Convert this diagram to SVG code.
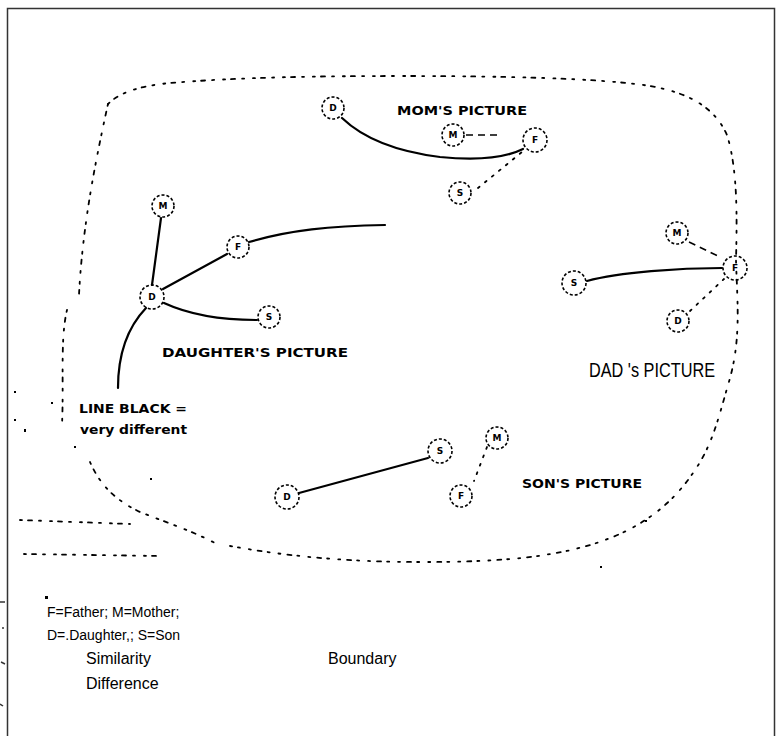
<svg xmlns="http://www.w3.org/2000/svg" width="776" height="736" viewBox="0 0 776 736">
<style>
.node{fill:none;stroke:#000;stroke-width:1.6;stroke-dasharray:3 2}
.nl{font-family:"DejaVu Sans","Liberation Sans",sans-serif;font-size:9px;font-weight:bold;text-anchor:middle;fill:#000}
.sol{fill:none;stroke:#000;stroke-width:2.2;stroke-linecap:round}
.dsh{fill:none;stroke:#000;stroke-width:1.6;stroke-dasharray:7 5}
.dot{fill:none;stroke:#000;stroke-width:1.8;stroke-dasharray:2 7;stroke-linecap:round}
.bnd{fill:none;stroke:#000;stroke-width:1.8;stroke-dasharray:2 6 4 7 2 9;stroke-linecap:round}
.pix{font-family:"DejaVu Sans Condensed","DejaVu Sans",sans-serif;font-weight:bold;font-size:12px;fill:#000}
.leg{font-family:"Liberation Sans",Arial,sans-serif;font-size:14px;fill:#000}
.leg2{font-family:"Liberation Sans",Arial,sans-serif;font-size:16px;fill:#000}
</style>
<rect x="7.5" y="8.5" width="767" height="735" fill="#fff" stroke="#333" stroke-width="1.5"/>
<g id="ticks" stroke="#333" stroke-width="1.5">
<line x1="0" y1="602" x2="5" y2="602"/><line x1="2" y1="628" x2="4" y2="628"/><line x1="1" y1="662" x2="5" y2="664"/><line x1="0" y1="704" x2="3" y2="706"/>
</g>
<g id="boundary">
<path class="bnd" d="M108,104 C120,92 140,86 170,83 C230,78 300,76 400,76 C500,76 600,78 650,86 C690,93 715,108 727,135 C738,170 737,220 736,260 C737,300 742,340 728,385 C718,420 712,445 695,470 C672,505 640,530 590,545 C540,560 480,562 420,562 C340,562 280,555 230,546"/>
<path class="bnd" d="M108,104 C100,140 92,180 87,215 C82,250 80,275 79,295"/>
<path class="bnd" d="M67,310 C60,340 64,380 62,425"/>
<path class="bnd" d="M90,462 C100,485 115,500 140,512 C165,522 190,530 215,543"/>
<path class="bnd" d="M20,520 L130,524 M24,554 L160,556"/>
<g fill="#000">
<rect x="14" y="391" width="2" height="2"/><rect x="51" y="402" width="2" height="2"/><rect x="14" y="419" width="2" height="2"/><rect x="24" y="429" width="2" height="3"/><rect x="74" y="446" width="2" height="2"/><rect x="150" y="478" width="2" height="2"/><rect x="600" y="566" width="2" height="2"/><rect x="645" y="520" width="2" height="2"/>
</g>
<rect x="45" y="596" width="3" height="3" fill="#000"/>
</g>
<g id="connectors">
<path class="sol" d="M342,118 C365,140 400,152 440,157 C480,161 505,158 523,149"/>
<line class="dsh" x1="466" y1="135" x2="497" y2="135"/>
<path class="dot" d="M478,188 L522,152"/>
<line class="sol" x1="161" y1="218" x2="152" y2="285"/>
<line class="sol" x1="163" y1="289" x2="227" y2="254"/>
<path class="sol" d="M249,242 C290,230 330,226 385,225"/>
<path class="sol" d="M164,303 C190,315 220,320 257,320"/>
<path class="sol" d="M146,308 C125,330 118,360 118,388"/>
<path class="sol" d="M587,281 C620,272 680,268 722,268"/>
<line class="dsh" x1="689" y1="242" x2="720" y2="257"/>
<path class="dot" d="M690,311 L724,279"/>
<line class="sol" x1="299" y1="493" x2="428" y2="458"/>
<path class="dot" d="M487,447 L474,481"/>
</g>
<g id="mom-picture">
<g id="mom-d"><circle class="node" cx="333" cy="108" r="11"/><text class="nl" x="333" y="111">D</text></g>
<g id="mom-m"><circle class="node" cx="453" cy="135" r="11"/><text class="nl" x="453" y="138">M</text></g>
<g id="mom-f"><circle class="node" cx="535" cy="140" r="12"/><text class="nl" x="535" y="143">F</text></g>
<g id="mom-s"><circle class="node" cx="460" cy="193" r="11"/><text class="nl" x="460" y="196">S</text></g>
<text class="pix" x="397" y="115" textLength="130" lengthAdjust="spacingAndGlyphs">MOM'S PICTURE</text>
</g>
<g id="daughter-picture">
<g id="dau-m"><circle class="node" cx="163" cy="206" r="11"/><text class="nl" x="163" y="209">M</text></g>
<g id="dau-f"><circle class="node" cx="238" cy="247" r="11"/><text class="nl" x="238" y="250">F</text></g>
<g id="dau-d"><circle class="node" cx="152" cy="297" r="12"/><text class="nl" x="152" y="300">D</text></g>
<g id="dau-s"><circle class="node" cx="269" cy="317" r="11"/><text class="nl" x="269" y="320">S</text></g>
<text class="pix" x="162" y="357" textLength="186" lengthAdjust="spacingAndGlyphs">DAUGHTER'S PICTURE</text>
<text class="pix" x="79" y="413" textLength="108" lengthAdjust="spacingAndGlyphs">LINE BLACK =</text>
<text class="pix" x="80" y="434" textLength="107" lengthAdjust="spacingAndGlyphs">very different</text>
</g>
<g id="dad-picture">
<g id="dad-m"><circle class="node" cx="677" cy="233" r="11"/><text class="nl" x="677" y="236">M</text></g>
<g id="dad-f"><circle class="node" cx="735" cy="268" r="12"/><text class="nl" x="735" y="271">F</text></g>
<g id="dad-s"><circle class="node" cx="574" cy="283" r="12"/><text class="nl" x="574" y="286">S</text></g>
<g id="dad-d"><circle class="node" cx="678" cy="321" r="11"/><text class="nl" x="678" y="324">D</text></g>
<text x="589" y="377" font-family="Liberation Sans Narrow,Liberation Sans,sans-serif" font-size="20" textLength="126" lengthAdjust="spacingAndGlyphs">DAD 's PICTURE</text>
</g>
<g id="son-picture">
<g id="son-d"><circle class="node" cx="287" cy="497" r="12"/><text class="nl" x="287" y="500">D</text></g>
<g id="son-s"><circle class="node" cx="440" cy="451" r="12"/><text class="nl" x="440" y="454">S</text></g>
<g id="son-m"><circle class="node" cx="497" cy="438" r="11"/><text class="nl" x="497" y="441">M</text></g>
<g id="son-f"><circle class="node" cx="461" cy="496" r="11"/><text class="nl" x="461" y="499">F</text></g>
<text class="pix" x="522" y="488" textLength="120" lengthAdjust="spacingAndGlyphs">SON'S PICTURE</text>
</g>
<g id="legend">
<text class="leg" x="47" y="617">F=Father; M=Mother;</text>
<text class="leg" x="47" y="640">D=.Daughter,; S=Son</text>
<text class="leg2" x="86" y="664">Similarity</text>
<text class="leg2" x="328" y="664">Boundary</text>
<text class="leg2" x="86" y="689">Difference</text>
</g>
</svg>
